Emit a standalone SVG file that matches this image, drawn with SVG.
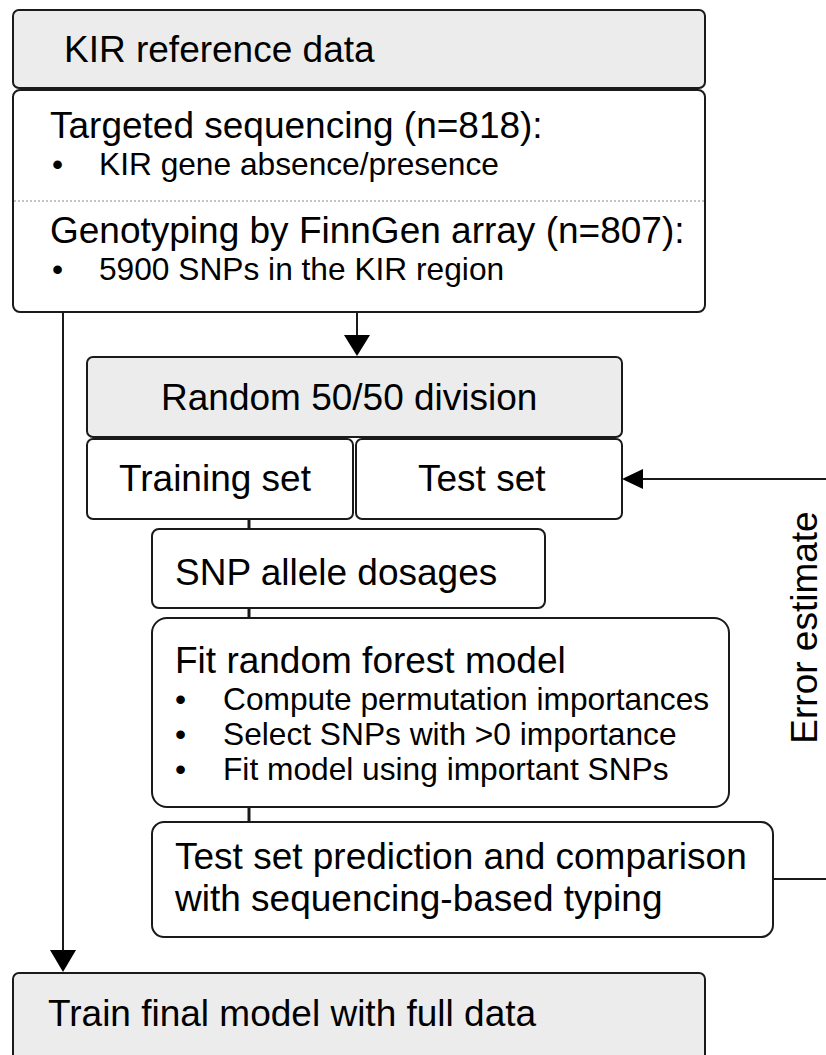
<svg xmlns="http://www.w3.org/2000/svg" width="826" height="1055" viewBox="0 0 826 1055">
<style>
.box{fill:#ffffff;stroke:#1a1a1a;stroke-width:2}
.hdr{fill:#ececec;stroke:#1a1a1a;stroke-width:2}
.t{font-family:"Liberation Sans",Arial,sans-serif;font-size:37px;fill:#000}
.s{font-family:"Liberation Sans",Arial,sans-serif;font-size:31.7px;fill:#000}
.ln{stroke:#1a1a1a;stroke-width:2;fill:none}
.lt{stroke:#1a1a1a;stroke-width:3;fill:none}
.ah{fill:#000}
</style>
<rect width="826" height="1055" fill="#ffffff"/>
<g id="connectors">
<line class="ln" x1="63" y1="312" x2="63" y2="952"/>
<polygon class="ah" points="50,950 76,950 63,972"/>
<line class="ln" x1="357" y1="312" x2="357" y2="337"/>
<polygon class="ah" points="344,335 370,335 357,356"/>
<line class="lt" x1="249" y1="519" x2="249" y2="529"/>
<line class="lt" x1="249" y1="608" x2="249" y2="618"/>
<line class="lt" x1="249" y1="807" x2="249" y2="822"/>
<line class="ln" x1="773" y1="879" x2="826" y2="879"/>
<line class="ln" x1="826" y1="479" x2="641" y2="479"/>
<polygon class="ah" points="643,469 643,489 622,479"/>
<text class="t" transform="translate(817,627.5) rotate(-90)" text-anchor="middle">Error estimate</text>
</g>
<g id="kir-header">
<rect class="hdr" x="13" y="10" width="692" height="78" rx="6"/>
<text class="t" x="64" y="62">KIR reference data</text>
</g>
<g id="kir-body">
<rect class="box" x="13" y="90" width="692" height="222" rx="7"/>
<line x1="14" y1="201" x2="704" y2="201" stroke="#888" stroke-width="1.2" stroke-dasharray="2,2"/>
<text class="t" x="50" y="138">Targeted sequencing (n=818):</text>
<text class="s" x="52" y="175">•</text>
<text class="s" x="99" y="175">KIR gene absence/presence</text>
<text class="t" x="50" y="243">Genotyping by FinnGen array (n=807):</text>
<text class="s" x="52" y="280">•</text>
<text class="s" x="99" y="280">5900 SNPs in the KIR region</text>
</g>
<g id="random-division">
<rect class="hdr" x="87" y="357" width="535" height="80" rx="6"/>
<text class="t" x="161" y="410">Random 50/50 division</text>
</g>
<g id="training-set">
<rect class="box" x="87" y="439" width="266" height="80" rx="6"/>
<text class="t" x="119" y="491">Training set</text>
</g>
<g id="test-set">
<rect class="box" x="356" y="439" width="266" height="80" rx="6"/>
<text class="t" x="418" y="491">Test set</text>
</g>
<g id="snp-dosages">
<rect class="box" x="152" y="529" width="393" height="79" rx="7"/>
<text class="t" x="175" y="585">SNP allele dosages</text>
</g>
<g id="fit-model">
<rect class="box" x="152" y="618" width="577" height="189" rx="15"/>
<text class="t" x="175" y="673">Fit random forest model</text>
<text class="s" x="175" y="710">•</text>
<text class="s" x="223" y="710">Compute permutation importances</text>
<text class="s" x="175" y="745">•</text>
<text class="s" x="223" y="745">Select SNPs with &gt;0 importance</text>
<text class="s" x="175" y="780">•</text>
<text class="s" x="223" y="780">Fit model using important SNPs</text>
</g>
<g id="test-prediction">
<rect class="box" x="152" y="822" width="621" height="115" rx="12"/>
<text class="t" x="175" y="869">Test set prediction and comparison</text>
<text class="t" x="175" y="911">with sequencing-based typing</text>
</g>
<g id="final-model">
<rect class="hdr" x="13" y="973" width="692" height="100" rx="6"/>
<text class="t" x="48" y="1026">Train final model with full data</text>
</g>
</svg>
